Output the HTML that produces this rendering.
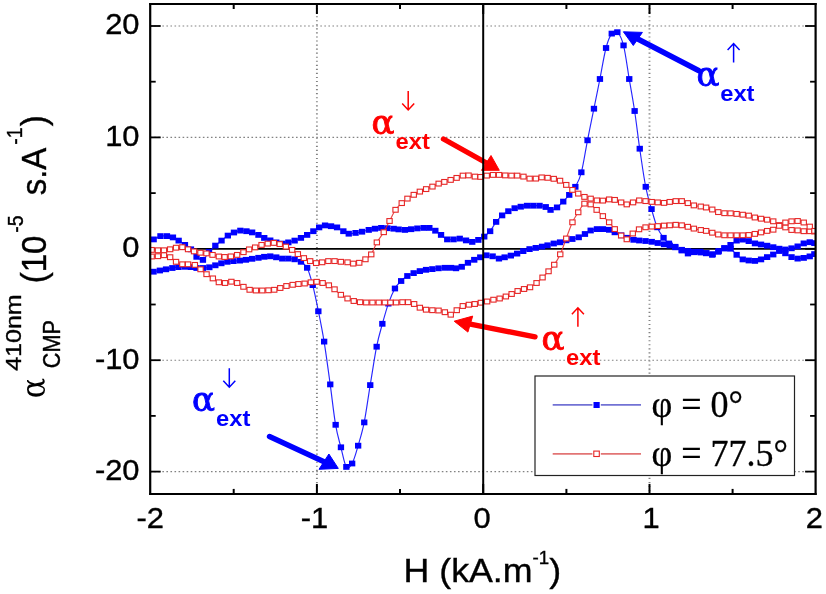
<!DOCTYPE html>
<html lang="en"><head><meta charset="utf-8"><title>Figure</title>
<style>html,body{margin:0;padding:0;background:#fff}body{width:826px;height:594px;overflow:hidden}svg{display:block}</style>
</head><body>
<svg width="826" height="594" viewBox="0 0 826 594">
<rect width="826" height="594" fill="#fff"/>
<g stroke="#828282" fill="none">
<line x1="316.9" y1="4.0" x2="316.9" y2="493.9" stroke-width="1.9" stroke-dasharray="1.15 2.9"/>
<line x1="649.5" y1="4.0" x2="649.5" y2="493.9" stroke-width="1.9" stroke-dasharray="1.15 2.9"/>
<line x1="150.2" y1="471.6" x2="815.6" y2="471.6" stroke-width="1.15" stroke-dasharray="1.6 2.45"/>
<line x1="150.2" y1="360.2" x2="815.6" y2="360.2" stroke-width="1.15" stroke-dasharray="1.6 2.45"/>
<line x1="150.2" y1="137.4" x2="815.6" y2="137.4" stroke-width="1.15" stroke-dasharray="1.6 2.45"/>
<line x1="150.2" y1="26.0" x2="815.6" y2="26.0" stroke-width="1.15" stroke-dasharray="1.6 2.45"/>
</g>
<line x1="150.2" y1="248.8" x2="815.6" y2="248.8" stroke="#000" stroke-width="1.7"/>
<g stroke="#000" stroke-width="2">
<line x1="233.7" y1="4.0" x2="233.7" y2="9.0"/>
<line x1="233.7" y1="493.9" x2="233.7" y2="488.9"/>
<line x1="316.9" y1="4.0" x2="316.9" y2="14.0"/>
<line x1="316.9" y1="493.9" x2="316.9" y2="483.9"/>
<line x1="400.0" y1="4.0" x2="400.0" y2="9.0"/>
<line x1="400.0" y1="493.9" x2="400.0" y2="488.9"/>
<line x1="483.2" y1="4.0" x2="483.2" y2="14.0"/>
<line x1="483.2" y1="493.9" x2="483.2" y2="483.9"/>
<line x1="566.4" y1="4.0" x2="566.4" y2="9.0"/>
<line x1="566.4" y1="493.9" x2="566.4" y2="488.9"/>
<line x1="649.5" y1="4.0" x2="649.5" y2="14.0"/>
<line x1="649.5" y1="493.9" x2="649.5" y2="483.9"/>
<line x1="732.6" y1="4.0" x2="732.6" y2="9.0"/>
<line x1="732.6" y1="493.9" x2="732.6" y2="488.9"/>
<line x1="150.2" y1="471.6" x2="160.7" y2="471.6" stroke-width="1.8"/>
<line x1="815.6" y1="471.6" x2="805.1" y2="471.6" stroke-width="1.8"/>
<line x1="150.2" y1="415.9" x2="155.7" y2="415.9" stroke-width="1.8"/>
<line x1="815.6" y1="415.9" x2="810.1" y2="415.9" stroke-width="1.8"/>
<line x1="150.2" y1="360.2" x2="160.7" y2="360.2" stroke-width="1.8"/>
<line x1="815.6" y1="360.2" x2="805.1" y2="360.2" stroke-width="1.8"/>
<line x1="150.2" y1="304.5" x2="155.7" y2="304.5" stroke-width="1.8"/>
<line x1="815.6" y1="304.5" x2="810.1" y2="304.5" stroke-width="1.8"/>
<line x1="150.2" y1="248.8" x2="160.7" y2="248.8" stroke-width="1.8"/>
<line x1="815.6" y1="248.8" x2="805.1" y2="248.8" stroke-width="1.8"/>
<line x1="150.2" y1="193.1" x2="155.7" y2="193.1" stroke-width="1.8"/>
<line x1="815.6" y1="193.1" x2="810.1" y2="193.1" stroke-width="1.8"/>
<line x1="150.2" y1="137.4" x2="160.7" y2="137.4" stroke-width="1.8"/>
<line x1="815.6" y1="137.4" x2="805.1" y2="137.4" stroke-width="1.8"/>
<line x1="150.2" y1="81.7" x2="155.7" y2="81.7" stroke-width="1.8"/>
<line x1="815.6" y1="81.7" x2="810.1" y2="81.7" stroke-width="1.8"/>
<line x1="150.2" y1="26.0" x2="160.7" y2="26.0" stroke-width="1.8"/>
<line x1="815.6" y1="26.0" x2="805.1" y2="26.0" stroke-width="1.8"/>
</g>
<clipPath id="pc"><rect x="150.2" y="4.0" width="665.4" height="489.9"/></clipPath>
<g id="curves" clip-path="url(#pc)">
<path d="M153.7,239.4 C154.8,238.8 158.3,236.7 160.5,236.1 C162.7,235.5 164.9,235.9 167.0,236.1 C169.1,236.3 171.1,236.7 173.0,237.4 C174.9,238.2 176.7,239.3 178.7,240.6 C180.7,241.8 182.9,243.4 185.0,244.9 C187.1,246.4 189.1,247.3 191.0,249.3 C192.9,251.3 194.6,255.0 196.6,256.8 C198.6,258.6 200.8,260.7 202.9,259.9 C205.0,259.1 207.0,254.2 209.1,251.8 C211.2,249.4 213.2,247.5 215.3,245.6 C217.4,243.7 219.5,242.3 221.6,240.6 C223.7,238.9 225.7,236.9 227.8,235.6 C229.9,234.2 231.9,233.3 234.0,232.5 C236.1,231.7 238.2,230.8 240.3,230.6 C242.4,230.4 244.5,230.9 246.5,231.2 C248.5,231.5 250.2,231.8 252.2,232.4 C254.2,233.0 256.5,234.0 258.5,234.9 C260.5,235.8 262.2,237.0 264.2,237.9 C266.1,238.8 268.2,239.7 270.2,240.4 C272.2,241.2 274.2,241.9 276.2,242.4 C278.2,242.9 280.2,243.6 282.2,243.6 C284.2,243.6 286.3,242.9 288.4,242.4 C290.5,241.9 292.5,241.3 294.6,240.6 C296.7,239.8 298.8,238.8 300.9,237.9 C303.0,237.0 305.0,236.0 307.1,234.9 C309.2,233.8 311.3,232.4 313.3,231.2 C315.3,229.9 317.2,228.4 319.1,227.4 C321.1,226.4 323.0,225.6 325.0,225.4 C327.0,225.2 329.0,225.9 331.0,226.2 C333.0,226.5 334.9,226.6 337.0,227.4 C339.1,228.2 341.4,230.1 343.3,231.2 C345.2,232.2 346.7,233.4 348.7,233.7 C350.7,234.0 353.3,233.2 355.5,232.9 C357.7,232.6 359.8,232.2 362.0,231.7 C364.2,231.2 366.6,230.4 368.7,229.9 C370.8,229.4 372.8,229.0 374.9,228.7 C377.0,228.4 379.1,228.0 381.2,227.9 C383.3,227.8 385.3,228.1 387.4,228.2 C389.5,228.3 391.7,228.5 393.6,228.7 C395.5,228.9 396.7,229.2 398.6,229.4 C400.5,229.6 402.8,229.9 404.9,229.9 C407.0,229.9 409.0,229.4 411.1,229.2 C413.2,228.9 415.2,228.6 417.3,228.4 C419.4,228.2 421.6,228.0 423.6,227.9 C425.6,227.8 427.4,227.4 429.3,227.9 C431.2,228.4 433.4,229.5 435.3,230.7 C437.2,231.9 439.0,233.4 441.0,234.9 C443.0,236.4 445.1,238.7 447.2,239.4 C449.3,240.2 451.4,239.5 453.5,239.4 C455.6,239.3 457.6,238.4 459.7,238.6 C461.8,238.8 463.9,239.8 466.0,240.4 C468.1,241.0 470.1,242.0 472.2,241.9 C474.3,241.8 476.4,240.8 478.4,239.9 C480.4,239.0 482.2,238.1 484.2,236.6 C486.1,235.1 488.1,233.6 490.1,231.2 C492.1,228.8 494.1,224.5 496.1,221.9 C498.1,219.3 500.1,217.2 502.1,215.4 C504.1,213.6 506.2,212.4 508.3,211.2 C510.4,210.0 512.5,208.9 514.6,208.2 C516.7,207.4 518.7,207.1 520.8,206.7 C522.9,206.3 524.9,205.9 527.0,205.7 C529.1,205.5 531.2,205.7 533.3,205.7 C535.4,205.7 537.4,205.5 539.5,205.7 C541.6,205.9 544.0,206.3 545.8,207.0 C547.6,207.7 548.6,209.8 550.5,209.9 C552.4,210.0 554.9,208.8 557.0,207.4 C559.1,206.0 561.2,203.7 563.2,201.6 C565.2,199.5 567.2,197.4 569.2,194.9 C571.2,192.4 573.4,190.6 575.4,186.8 C577.4,183.0 579.4,180.1 581.4,172.3 C583.4,164.6 585.4,150.9 587.5,140.3 C589.6,129.7 591.8,118.9 593.9,108.7 C596.0,98.5 597.9,89.1 599.9,79.0 C601.9,68.9 604.0,55.6 606.0,48.0 C608.0,40.4 609.8,36.2 611.7,33.6 C613.6,31.0 615.4,30.2 617.4,32.2 C619.4,34.2 621.5,37.6 623.5,45.4 C625.5,53.2 627.4,68.1 629.2,79.0 C631.1,89.9 632.9,99.4 634.6,111.0 C636.4,122.6 637.9,136.1 639.7,148.7 C641.6,161.3 643.7,176.7 645.7,186.8 C647.7,196.9 649.6,202.3 651.5,209.1 C653.4,215.8 655.2,222.5 657.2,227.3 C659.2,232.1 661.5,235.1 663.5,237.8 C665.5,240.5 666.9,241.9 668.9,243.5 C670.9,245.1 673.1,246.1 675.2,247.3 C677.3,248.5 679.6,249.5 681.7,250.5 C683.8,251.5 685.9,253.2 687.9,253.5 C689.9,253.8 691.8,252.4 693.9,252.2 C696.0,252.0 698.8,252.3 700.8,252.5 C702.8,252.7 704.2,252.9 706.1,253.3 C708.0,253.7 710.2,255.1 712.2,254.8 C714.2,254.6 716.3,252.9 718.3,251.8 C720.3,250.7 722.4,249.2 724.4,248.0 C726.4,246.8 728.5,246.1 730.5,244.9 C732.5,243.7 734.6,241.5 736.6,240.6 C738.6,239.7 740.7,239.5 742.7,239.6 C744.7,239.7 746.8,240.5 748.8,241.1 C750.8,241.7 752.9,242.8 754.9,243.4 C756.9,244.0 759.0,244.1 761.0,244.5 C763.0,244.9 765.1,245.2 767.1,245.7 C769.1,246.1 771.2,246.7 773.2,247.2 C775.2,247.7 777.3,248.3 779.3,248.7 C781.3,249.1 783.4,249.6 785.4,249.5 C787.4,249.4 789.5,248.8 791.5,248.3 C793.5,247.8 795.6,247.2 797.6,246.4 C799.6,245.6 801.7,244.1 803.7,243.4 C805.7,242.7 808.0,242.2 809.8,242.2 C811.6,242.1 813.6,242.9 814.4,243.1" fill="none" stroke="#0000ff" stroke-width="1.15" stroke-opacity=".85" stroke-linejoin="round"/>
<g fill="#0000ff">
<rect x="150.5" y="236.5" width="6.3" height="5.8"/>
<rect x="157.3" y="233.2" width="6.3" height="5.8"/>
<rect x="163.8" y="233.2" width="6.3" height="5.8"/>
<rect x="169.8" y="234.5" width="6.3" height="5.8"/>
<rect x="175.5" y="237.7" width="6.3" height="5.8"/>
<rect x="181.8" y="242.0" width="6.3" height="5.8"/>
<rect x="187.8" y="246.4" width="6.3" height="5.8"/>
<rect x="193.4" y="253.9" width="6.3" height="5.8"/>
<rect x="199.8" y="257.0" width="6.3" height="5.8"/>
<rect x="205.9" y="248.9" width="6.3" height="5.8"/>
<rect x="212.2" y="242.7" width="6.3" height="5.8"/>
<rect x="218.4" y="237.7" width="6.3" height="5.8"/>
<rect x="224.7" y="232.7" width="6.3" height="5.8"/>
<rect x="230.8" y="229.6" width="6.3" height="5.8"/>
<rect x="237.2" y="227.7" width="6.3" height="5.8"/>
<rect x="243.3" y="228.3" width="6.3" height="5.8"/>
<rect x="249.0" y="229.5" width="6.3" height="5.8"/>
<rect x="255.3" y="232.0" width="6.3" height="5.8"/>
<rect x="261.1" y="235.0" width="6.3" height="5.8"/>
<rect x="267.1" y="237.5" width="6.3" height="5.8"/>
<rect x="273.1" y="239.5" width="6.3" height="5.8"/>
<rect x="279.1" y="240.7" width="6.3" height="5.8"/>
<rect x="285.2" y="239.5" width="6.3" height="5.8"/>
<rect x="291.5" y="237.7" width="6.3" height="5.8"/>
<rect x="297.8" y="235.0" width="6.3" height="5.8"/>
<rect x="304.0" y="232.0" width="6.3" height="5.8"/>
<rect x="310.2" y="228.3" width="6.3" height="5.8"/>
<rect x="316.0" y="224.5" width="6.3" height="5.8"/>
<rect x="321.9" y="222.5" width="6.3" height="5.8"/>
<rect x="327.9" y="223.3" width="6.3" height="5.8"/>
<rect x="333.9" y="224.5" width="6.3" height="5.8"/>
<rect x="340.2" y="228.3" width="6.3" height="5.8"/>
<rect x="345.6" y="230.8" width="6.3" height="5.8"/>
<rect x="352.4" y="230.0" width="6.3" height="5.8"/>
<rect x="358.9" y="228.8" width="6.3" height="5.8"/>
<rect x="365.6" y="227.0" width="6.3" height="5.8"/>
<rect x="371.8" y="225.8" width="6.3" height="5.8"/>
<rect x="378.1" y="225.0" width="6.3" height="5.8"/>
<rect x="384.2" y="225.3" width="6.3" height="5.8"/>
<rect x="390.5" y="225.8" width="6.3" height="5.8"/>
<rect x="395.5" y="226.5" width="6.3" height="5.8"/>
<rect x="401.8" y="227.0" width="6.3" height="5.8"/>
<rect x="408.0" y="226.3" width="6.3" height="5.8"/>
<rect x="414.2" y="225.5" width="6.3" height="5.8"/>
<rect x="420.5" y="225.0" width="6.3" height="5.8"/>
<rect x="426.2" y="225.0" width="6.3" height="5.8"/>
<rect x="432.2" y="227.8" width="6.3" height="5.8"/>
<rect x="437.9" y="232.0" width="6.3" height="5.8"/>
<rect x="444.1" y="236.5" width="6.3" height="5.8"/>
<rect x="450.4" y="236.5" width="6.3" height="5.8"/>
<rect x="456.6" y="235.7" width="6.3" height="5.8"/>
<rect x="462.9" y="237.5" width="6.3" height="5.8"/>
<rect x="469.1" y="239.0" width="6.3" height="5.8"/>
<rect x="475.2" y="237.0" width="6.3" height="5.8"/>
<rect x="481.1" y="233.7" width="6.3" height="5.8"/>
<rect x="487.0" y="228.3" width="6.3" height="5.8"/>
<rect x="493.0" y="219.0" width="6.3" height="5.8"/>
<rect x="499.0" y="212.5" width="6.3" height="5.8"/>
<rect x="505.2" y="208.3" width="6.3" height="5.8"/>
<rect x="511.5" y="205.3" width="6.3" height="5.8"/>
<rect x="517.6" y="203.8" width="6.3" height="5.8"/>
<rect x="523.9" y="202.8" width="6.3" height="5.8"/>
<rect x="530.1" y="202.8" width="6.3" height="5.8"/>
<rect x="536.4" y="202.8" width="6.3" height="5.8"/>
<rect x="542.6" y="204.1" width="6.3" height="5.8"/>
<rect x="547.4" y="207.0" width="6.3" height="5.8"/>
<rect x="553.9" y="204.5" width="6.3" height="5.8"/>
<rect x="560.1" y="198.7" width="6.3" height="5.8"/>
<rect x="566.1" y="192.0" width="6.3" height="5.8"/>
<rect x="572.2" y="183.9" width="6.3" height="5.8"/>
<rect x="578.2" y="169.4" width="6.3" height="5.8"/>
<rect x="584.4" y="137.4" width="6.3" height="5.8"/>
<rect x="590.8" y="105.8" width="6.3" height="5.8"/>
<rect x="596.8" y="76.1" width="6.3" height="5.8"/>
<rect x="602.9" y="45.1" width="6.3" height="5.8"/>
<rect x="608.6" y="30.7" width="6.3" height="5.8"/>
<rect x="614.2" y="29.3" width="6.3" height="5.8"/>
<rect x="620.4" y="42.5" width="6.3" height="5.8"/>
<rect x="626.1" y="76.1" width="6.3" height="5.8"/>
<rect x="631.5" y="108.1" width="6.3" height="5.8"/>
<rect x="636.6" y="145.8" width="6.3" height="5.8"/>
<rect x="642.6" y="183.9" width="6.3" height="5.8"/>
<rect x="648.4" y="206.2" width="6.3" height="5.8"/>
<rect x="654.1" y="224.4" width="6.3" height="5.8"/>
<rect x="660.4" y="234.9" width="6.3" height="5.8"/>
<rect x="665.8" y="240.6" width="6.3" height="5.8"/>
<rect x="672.1" y="244.4" width="6.3" height="5.8"/>
<rect x="678.6" y="247.6" width="6.3" height="5.8"/>
<rect x="684.8" y="250.6" width="6.3" height="5.8"/>
<rect x="690.8" y="249.3" width="6.3" height="5.8"/>
<rect x="697.6" y="249.6" width="6.3" height="5.8"/>
<rect x="703.0" y="250.4" width="6.3" height="5.8"/>
<rect x="709.1" y="251.9" width="6.3" height="5.8"/>
<rect x="715.1" y="248.9" width="6.3" height="5.8"/>
<rect x="721.2" y="245.1" width="6.3" height="5.8"/>
<rect x="727.4" y="242.0" width="6.3" height="5.8"/>
<rect x="733.5" y="237.7" width="6.3" height="5.8"/>
<rect x="739.6" y="236.7" width="6.3" height="5.8"/>
<rect x="745.6" y="238.2" width="6.3" height="5.8"/>
<rect x="751.8" y="240.5" width="6.3" height="5.8"/>
<rect x="757.9" y="241.6" width="6.3" height="5.8"/>
<rect x="764.0" y="242.8" width="6.3" height="5.8"/>
<rect x="770.1" y="244.3" width="6.3" height="5.8"/>
<rect x="776.1" y="245.8" width="6.3" height="5.8"/>
<rect x="782.2" y="246.6" width="6.3" height="5.8"/>
<rect x="788.4" y="245.4" width="6.3" height="5.8"/>
<rect x="794.5" y="243.5" width="6.3" height="5.8"/>
<rect x="800.6" y="240.5" width="6.3" height="5.8"/>
<rect x="806.6" y="239.3" width="6.3" height="5.8"/>
<rect x="811.2" y="240.2" width="6.3" height="5.8"/>
</g>
<path d="M153.6,271.7 C154.6,271.5 157.7,270.9 159.8,270.5 C161.9,270.1 164.0,269.7 166.1,269.3 C168.2,268.9 170.2,268.4 172.3,268.0 C174.4,267.6 176.4,267.3 178.5,267.1 C180.6,266.9 182.7,266.8 184.8,266.8 C186.9,266.8 189.0,266.9 191.0,267.1 C193.0,267.3 194.6,267.9 196.6,268.0 C198.6,268.1 200.8,268.1 202.9,268.0 C205.0,267.9 207.2,267.8 209.3,267.3 C211.4,266.9 213.3,266.0 215.3,265.3 C217.3,264.6 219.3,263.9 221.3,263.3 C223.3,262.7 225.3,262.2 227.3,261.8 C229.3,261.4 231.4,261.3 233.5,261.1 C235.6,260.9 237.7,260.8 239.8,260.6 C241.9,260.4 243.9,260.1 246.0,259.8 C248.1,259.5 250.1,259.1 252.2,258.8 C254.3,258.5 256.5,258.1 258.5,257.8 C260.5,257.5 262.2,257.1 264.2,256.8 C266.1,256.6 268.2,256.2 270.2,256.3 C272.2,256.4 274.2,256.9 276.2,257.3 C278.2,257.7 280.2,258.4 282.2,258.6 C284.2,258.8 286.3,258.5 288.4,258.6 C290.5,258.7 292.5,258.8 294.6,259.3 C296.7,259.8 298.8,260.4 300.9,261.8 C303.0,263.2 305.1,263.9 307.1,267.8 C309.1,271.7 310.8,277.9 312.7,285.1 C314.6,292.4 316.5,301.9 318.4,311.3 C320.3,320.7 322.1,329.4 324.1,341.6 C326.1,353.8 328.3,370.5 330.2,384.4 C332.1,398.3 333.8,414.3 335.6,424.8 C337.4,435.3 339.1,440.3 340.9,447.3 C342.7,454.3 344.4,464.2 346.3,466.9 C348.2,469.6 350.1,467.0 352.1,463.5 C354.1,460.0 356.1,452.6 358.1,445.7 C360.1,438.8 362.2,432.5 364.2,422.4 C366.2,412.3 368.1,397.7 370.2,385.1 C372.3,372.5 374.6,356.9 376.6,346.7 C378.6,336.5 380.4,331.0 382.4,323.8 C384.4,316.6 386.3,309.5 388.4,303.6 C390.5,297.7 392.8,292.3 394.9,288.5 C397.0,284.7 399.0,283.1 401.1,281.0 C403.2,278.9 405.2,277.3 407.3,276.0 C409.4,274.7 411.5,273.9 413.6,273.1 C415.7,272.3 417.7,271.7 419.8,271.1 C421.9,270.6 423.9,270.1 426.0,269.8 C428.1,269.5 430.2,269.4 432.3,269.1 C434.4,268.9 436.4,268.5 438.5,268.3 C440.6,268.1 442.7,267.9 444.8,267.8 C446.9,267.7 449.1,267.7 451.0,267.8 C452.9,267.9 454.2,268.5 456.0,268.3 C457.8,268.1 459.7,267.7 461.7,266.8 C463.7,265.9 465.8,264.0 467.9,262.8 C470.0,261.6 472.1,260.7 474.2,259.8 C476.2,258.9 478.2,258.1 480.2,257.3 C482.2,256.6 484.3,255.5 486.4,255.3 C488.5,255.1 490.5,255.8 492.6,256.3 C494.7,256.9 496.9,258.4 498.9,258.6 C500.9,258.8 502.6,257.8 504.6,257.3 C506.6,256.8 508.7,256.2 510.8,255.6 C512.9,255.0 515.0,254.3 517.1,253.6 C519.2,252.8 521.2,251.8 523.3,251.1 C525.4,250.3 527.4,249.6 529.5,249.1 C531.6,248.6 533.7,248.3 535.8,247.9 C537.9,247.5 540.0,247.0 542.0,246.6 C544.0,246.2 545.5,245.8 547.5,245.3 C549.5,244.8 551.6,244.0 553.7,243.5 C555.8,243.0 557.9,242.8 560.0,242.3 C562.1,241.8 564.1,240.9 566.2,240.3 C568.3,239.8 570.3,239.5 572.4,239.0 C574.5,238.5 576.6,238.1 578.7,237.3 C580.8,236.5 582.9,235.1 584.9,234.0 C586.9,232.9 588.6,231.3 590.6,230.5 C592.6,229.7 594.9,229.3 596.9,229.1 C598.9,228.9 600.9,229.0 602.9,229.1 C604.9,229.2 607.1,229.3 609.1,229.8 C611.1,230.3 612.8,231.4 614.8,232.3 C616.8,233.2 619.0,234.4 621.1,235.3 C623.2,236.2 625.2,237.1 627.3,237.8 C629.4,238.6 631.5,239.4 633.5,239.8 C635.5,240.2 637.3,240.3 639.3,240.5 C641.3,240.7 643.4,240.8 645.5,241.0 C647.6,241.2 649.7,241.5 651.7,241.8 C653.7,242.1 655.7,242.6 657.7,243.0 C659.8,243.4 662.0,243.9 664.0,244.3 C666.0,244.7 667.8,245.1 669.7,245.5 C671.6,245.9 673.2,246.1 675.2,246.8 C677.2,247.5 679.6,249.1 681.7,249.8 C683.8,250.5 685.9,250.7 687.9,251.0 C689.9,251.3 691.9,251.6 693.9,251.7 C695.9,251.8 698.0,251.5 700.1,251.7 C702.2,251.9 704.3,252.6 706.4,253.0 C708.5,253.4 710.5,254.5 712.6,254.2 C714.7,253.9 716.8,251.9 718.8,251.0 C720.8,250.1 722.6,248.9 724.6,248.5 C726.6,248.1 728.5,247.6 730.5,248.7 C732.5,249.8 734.6,253.0 736.6,254.8 C738.6,256.6 740.7,258.4 742.7,259.4 C744.7,260.3 746.8,260.2 748.8,260.5 C750.8,260.8 752.9,261.1 754.9,260.9 C756.9,260.7 759.0,260.0 761.0,259.4 C763.0,258.8 765.1,257.9 767.1,257.1 C769.1,256.3 771.2,255.5 773.2,254.5 C775.2,253.5 777.3,251.2 779.3,251.0 C781.3,250.8 783.4,252.3 785.4,253.3 C787.4,254.3 789.5,256.2 791.5,257.1 C793.5,258.0 795.6,258.5 797.6,258.6 C799.6,258.7 801.7,258.3 803.7,257.9 C805.7,257.5 808.0,257.0 809.8,256.4 C811.6,255.8 813.6,254.5 814.4,254.1" fill="none" stroke="#0000ff" stroke-width="1.15" stroke-opacity=".85" stroke-linejoin="round"/>
<g fill="#0000ff">
<rect x="150.4" y="268.8" width="6.3" height="5.8"/>
<rect x="156.7" y="267.6" width="6.3" height="5.8"/>
<rect x="162.9" y="266.4" width="6.3" height="5.8"/>
<rect x="169.2" y="265.1" width="6.3" height="5.8"/>
<rect x="175.3" y="264.2" width="6.3" height="5.8"/>
<rect x="181.7" y="263.9" width="6.3" height="5.8"/>
<rect x="187.8" y="264.2" width="6.3" height="5.8"/>
<rect x="193.4" y="265.1" width="6.3" height="5.8"/>
<rect x="199.8" y="265.1" width="6.3" height="5.8"/>
<rect x="206.2" y="264.4" width="6.3" height="5.8"/>
<rect x="212.2" y="262.4" width="6.3" height="5.8"/>
<rect x="218.2" y="260.4" width="6.3" height="5.8"/>
<rect x="224.2" y="258.9" width="6.3" height="5.8"/>
<rect x="230.3" y="258.2" width="6.3" height="5.8"/>
<rect x="236.7" y="257.7" width="6.3" height="5.8"/>
<rect x="242.8" y="256.9" width="6.3" height="5.8"/>
<rect x="249.0" y="255.9" width="6.3" height="5.8"/>
<rect x="255.3" y="254.9" width="6.3" height="5.8"/>
<rect x="261.1" y="253.9" width="6.3" height="5.8"/>
<rect x="267.1" y="253.4" width="6.3" height="5.8"/>
<rect x="273.1" y="254.4" width="6.3" height="5.8"/>
<rect x="279.1" y="255.7" width="6.3" height="5.8"/>
<rect x="285.2" y="255.7" width="6.3" height="5.8"/>
<rect x="291.5" y="256.4" width="6.3" height="5.8"/>
<rect x="297.8" y="258.9" width="6.3" height="5.8"/>
<rect x="304.0" y="264.9" width="6.3" height="5.8"/>
<rect x="309.6" y="282.2" width="6.3" height="5.8"/>
<rect x="315.2" y="308.4" width="6.3" height="5.8"/>
<rect x="321.0" y="338.7" width="6.3" height="5.8"/>
<rect x="327.1" y="381.5" width="6.3" height="5.8"/>
<rect x="332.5" y="421.9" width="6.3" height="5.8"/>
<rect x="337.8" y="444.4" width="6.3" height="5.8"/>
<rect x="343.2" y="464.0" width="6.3" height="5.8"/>
<rect x="349.0" y="460.6" width="6.3" height="5.8"/>
<rect x="355.0" y="442.8" width="6.3" height="5.8"/>
<rect x="361.1" y="419.5" width="6.3" height="5.8"/>
<rect x="367.1" y="382.2" width="6.3" height="5.8"/>
<rect x="373.5" y="343.8" width="6.3" height="5.8"/>
<rect x="379.2" y="320.9" width="6.3" height="5.8"/>
<rect x="385.2" y="300.7" width="6.3" height="5.8"/>
<rect x="391.8" y="285.6" width="6.3" height="5.8"/>
<rect x="398.0" y="278.1" width="6.3" height="5.8"/>
<rect x="404.2" y="273.1" width="6.3" height="5.8"/>
<rect x="410.5" y="270.2" width="6.3" height="5.8"/>
<rect x="416.7" y="268.2" width="6.3" height="5.8"/>
<rect x="422.9" y="266.9" width="6.3" height="5.8"/>
<rect x="429.2" y="266.2" width="6.3" height="5.8"/>
<rect x="435.4" y="265.4" width="6.3" height="5.8"/>
<rect x="441.7" y="264.9" width="6.3" height="5.8"/>
<rect x="447.9" y="264.9" width="6.3" height="5.8"/>
<rect x="452.9" y="265.4" width="6.3" height="5.8"/>
<rect x="458.6" y="263.9" width="6.3" height="5.8"/>
<rect x="464.8" y="259.9" width="6.3" height="5.8"/>
<rect x="471.1" y="256.9" width="6.3" height="5.8"/>
<rect x="477.1" y="254.4" width="6.3" height="5.8"/>
<rect x="483.2" y="252.4" width="6.3" height="5.8"/>
<rect x="489.5" y="253.4" width="6.3" height="5.8"/>
<rect x="495.8" y="255.7" width="6.3" height="5.8"/>
<rect x="501.5" y="254.4" width="6.3" height="5.8"/>
<rect x="507.7" y="252.7" width="6.3" height="5.8"/>
<rect x="514.0" y="250.7" width="6.3" height="5.8"/>
<rect x="520.1" y="248.2" width="6.3" height="5.8"/>
<rect x="526.4" y="246.2" width="6.3" height="5.8"/>
<rect x="532.6" y="245.0" width="6.3" height="5.8"/>
<rect x="538.9" y="243.7" width="6.3" height="5.8"/>
<rect x="544.4" y="242.4" width="6.3" height="5.8"/>
<rect x="550.6" y="240.6" width="6.3" height="5.8"/>
<rect x="556.9" y="239.4" width="6.3" height="5.8"/>
<rect x="563.1" y="237.4" width="6.3" height="5.8"/>
<rect x="569.2" y="236.1" width="6.3" height="5.8"/>
<rect x="575.6" y="234.4" width="6.3" height="5.8"/>
<rect x="581.8" y="231.1" width="6.3" height="5.8"/>
<rect x="587.5" y="227.6" width="6.3" height="5.8"/>
<rect x="593.8" y="226.2" width="6.3" height="5.8"/>
<rect x="599.8" y="226.2" width="6.3" height="5.8"/>
<rect x="606.0" y="226.9" width="6.3" height="5.8"/>
<rect x="611.6" y="229.4" width="6.3" height="5.8"/>
<rect x="618.0" y="232.4" width="6.3" height="5.8"/>
<rect x="624.1" y="234.9" width="6.3" height="5.8"/>
<rect x="630.4" y="236.9" width="6.3" height="5.8"/>
<rect x="636.1" y="237.6" width="6.3" height="5.8"/>
<rect x="642.4" y="238.1" width="6.3" height="5.8"/>
<rect x="648.6" y="238.9" width="6.3" height="5.8"/>
<rect x="654.6" y="240.1" width="6.3" height="5.8"/>
<rect x="660.9" y="241.4" width="6.3" height="5.8"/>
<rect x="666.6" y="242.6" width="6.3" height="5.8"/>
<rect x="672.1" y="243.9" width="6.3" height="5.8"/>
<rect x="678.6" y="246.9" width="6.3" height="5.8"/>
<rect x="684.8" y="248.1" width="6.3" height="5.8"/>
<rect x="690.8" y="248.8" width="6.3" height="5.8"/>
<rect x="697.0" y="248.8" width="6.3" height="5.8"/>
<rect x="703.2" y="250.1" width="6.3" height="5.8"/>
<rect x="709.5" y="251.3" width="6.3" height="5.8"/>
<rect x="715.6" y="248.1" width="6.3" height="5.8"/>
<rect x="721.5" y="245.6" width="6.3" height="5.8"/>
<rect x="727.4" y="245.8" width="6.3" height="5.8"/>
<rect x="733.5" y="251.9" width="6.3" height="5.8"/>
<rect x="739.6" y="256.5" width="6.3" height="5.8"/>
<rect x="745.6" y="257.6" width="6.3" height="5.8"/>
<rect x="751.8" y="258.0" width="6.3" height="5.8"/>
<rect x="757.9" y="256.5" width="6.3" height="5.8"/>
<rect x="764.0" y="254.2" width="6.3" height="5.8"/>
<rect x="770.1" y="251.6" width="6.3" height="5.8"/>
<rect x="776.1" y="248.1" width="6.3" height="5.8"/>
<rect x="782.2" y="250.4" width="6.3" height="5.8"/>
<rect x="788.4" y="254.2" width="6.3" height="5.8"/>
<rect x="794.5" y="255.7" width="6.3" height="5.8"/>
<rect x="800.6" y="255.0" width="6.3" height="5.8"/>
<rect x="806.6" y="253.5" width="6.3" height="5.8"/>
<rect x="811.2" y="251.2" width="6.3" height="5.8"/>
</g>
<path d="M151.7,249.9 C152.8,250.0 155.9,250.2 158.0,250.3 C160.1,250.4 162.0,250.5 164.0,250.3 C166.0,250.1 168.2,249.7 170.2,249.3 C172.2,248.9 174.1,248.0 176.1,247.7 C178.1,247.3 180.3,246.9 182.3,247.2 C184.3,247.5 186.1,248.6 188.1,249.3 C190.1,250.0 192.0,250.8 194.1,251.4 C196.2,252.0 198.3,252.4 200.4,252.7 C202.5,253.0 204.4,253.0 206.4,253.4 C208.4,253.8 210.5,254.4 212.6,254.9 C214.7,255.4 216.8,256.1 218.8,256.5 C220.8,256.9 222.7,257.0 224.7,257.0 C226.7,257.0 228.8,256.8 230.9,256.4 C233.0,256.0 235.1,255.6 237.2,254.9 C239.3,254.2 241.4,253.1 243.4,252.2 C245.4,251.3 247.2,250.2 249.2,249.4 C251.2,248.6 253.1,248.2 255.2,247.4 C257.2,246.7 259.4,245.5 261.5,244.9 C263.6,244.3 265.6,243.9 267.7,243.6 C269.8,243.3 271.9,242.8 273.9,242.9 C275.9,243.0 277.7,243.5 279.7,244.1 C281.7,244.7 283.8,245.6 285.9,246.6 C288.0,247.6 290.1,248.7 292.1,249.9 C294.1,251.2 295.9,252.7 297.9,254.1 C299.9,255.5 301.9,256.9 303.9,258.1 C305.9,259.3 308.1,260.3 310.1,261.1 C312.1,261.9 314.1,262.9 316.1,263.1 C318.1,263.3 320.1,262.6 322.1,262.3 C324.1,262.0 326.2,261.3 328.3,261.1 C330.4,260.9 332.4,261.0 334.5,261.1 C336.6,261.2 338.6,261.6 340.8,261.8 C343.0,262.0 345.4,262.0 347.5,262.3 C349.6,262.6 351.2,263.5 353.2,263.6 C355.1,263.7 357.2,263.5 359.2,262.8 C361.2,262.1 363.4,260.7 365.4,259.3 C367.4,257.9 369.3,257.2 371.2,254.4 C373.1,251.6 374.8,246.1 376.9,242.4 C379.0,238.7 381.6,235.8 383.7,232.2 C385.8,228.6 387.5,224.7 389.5,221.0 C391.5,217.3 393.5,212.8 395.5,209.8 C397.5,206.8 399.7,205.0 401.7,203.1 C403.7,201.2 405.4,200.0 407.4,198.6 C409.4,197.2 411.6,196.0 413.7,194.8 C415.8,193.6 417.8,192.6 419.9,191.6 C422.0,190.6 424.0,189.9 426.1,189.1 C428.2,188.3 430.3,187.5 432.4,186.6 C434.5,185.7 436.6,184.4 438.6,183.6 C440.6,182.8 442.3,182.5 444.3,181.9 C446.3,181.3 448.6,180.6 450.6,179.9 C452.7,179.2 454.6,178.6 456.6,177.9 C458.6,177.2 460.8,176.0 462.8,175.6 C464.8,175.2 466.5,175.2 468.5,175.4 C470.5,175.6 472.8,176.3 474.8,176.6 C476.8,176.8 478.5,177.1 480.5,176.9 C482.5,176.7 484.6,175.9 486.7,175.6 C488.8,175.3 490.9,175.0 493.0,174.9 C495.1,174.8 497.0,174.8 499.0,174.9 C501.0,175.0 503.1,175.3 505.2,175.4 C507.3,175.5 509.4,175.6 511.4,175.6 C513.4,175.6 515.2,175.4 517.2,175.6 C519.2,175.8 521.3,176.1 523.4,176.6 C525.5,177.1 527.5,178.3 529.6,178.6 C531.7,178.9 533.9,178.8 535.9,178.6 C537.9,178.4 539.6,177.5 541.6,177.4 C543.6,177.3 545.6,177.6 547.6,177.8 C549.6,178.0 551.7,178.3 553.8,178.8 C555.9,179.3 557.9,179.7 560.0,180.7 C562.1,181.7 564.1,183.4 566.2,184.9 C568.3,186.4 570.4,188.5 572.4,189.9 C574.4,191.3 576.2,192.4 578.2,193.6 C580.2,194.8 582.3,196.1 584.4,196.9 C586.5,197.7 588.5,198.0 590.6,198.6 C592.7,199.2 594.9,200.1 596.9,200.4 C598.9,200.7 600.9,200.8 602.9,200.6 C604.9,200.4 607.1,199.5 609.1,199.4 C611.1,199.3 612.8,199.4 614.8,199.9 C616.8,200.4 619.1,201.7 621.1,202.4 C623.1,203.2 624.8,204.4 626.8,204.4 C628.8,204.4 630.9,203.1 633.0,202.4 C635.1,201.7 637.2,200.6 639.3,200.4 C641.4,200.2 643.4,200.8 645.5,201.1 C647.6,201.3 649.7,201.7 651.7,201.9 C653.7,202.1 655.7,202.2 657.7,202.4 C659.8,202.6 662.0,203.0 664.0,202.9 C666.0,202.8 667.8,202.2 669.7,201.9 C671.7,201.6 673.7,201.2 675.7,201.1 C677.7,201.0 679.7,200.8 681.7,201.1 C683.7,201.4 685.9,202.4 687.9,203.1 C689.9,203.8 691.8,204.8 693.9,205.4 C696.0,206.0 698.8,206.2 700.8,206.5 C702.8,206.8 704.2,207.0 706.1,207.5 C708.0,208.0 710.2,208.7 712.2,209.5 C714.2,210.3 716.3,211.5 718.3,212.1 C720.3,212.7 722.4,213.0 724.4,213.2 C726.4,213.4 728.5,213.2 730.5,213.3 C732.5,213.4 734.6,213.7 736.6,213.9 C738.6,214.1 740.7,214.4 742.7,214.7 C744.7,215.0 746.8,215.1 748.8,215.6 C750.8,216.1 752.9,217.0 754.9,217.5 C756.9,218.0 759.0,218.3 761.0,218.7 C763.0,219.1 765.1,219.3 767.1,219.7 C769.1,220.1 771.2,220.4 773.2,221.3 C775.2,222.2 777.3,224.1 779.3,225.1 C781.3,226.1 783.4,226.6 785.4,227.4 C787.4,228.2 789.5,229.5 791.5,230.0 C793.5,230.5 795.6,230.2 797.6,230.4 C799.6,230.6 801.7,231.1 803.7,231.2 C805.7,231.3 808.0,231.1 809.8,231.2 C811.6,231.2 813.6,231.4 814.4,231.5" fill="none" stroke="#e62626" stroke-width="1.15" stroke-opacity=".85" stroke-linejoin="round"/>
<g fill="#fff" stroke="#e62626" stroke-width="1.1">
<rect x="149.0" y="247.5" width="5.3" height="4.8"/>
<rect x="155.3" y="247.9" width="5.3" height="4.8"/>
<rect x="161.3" y="247.9" width="5.3" height="4.8"/>
<rect x="167.5" y="246.9" width="5.3" height="4.8"/>
<rect x="173.4" y="245.3" width="5.3" height="4.8"/>
<rect x="179.7" y="244.8" width="5.3" height="4.8"/>
<rect x="185.4" y="246.9" width="5.3" height="4.8"/>
<rect x="191.4" y="249.0" width="5.3" height="4.8"/>
<rect x="197.8" y="250.3" width="5.3" height="4.8"/>
<rect x="203.8" y="251.0" width="5.3" height="4.8"/>
<rect x="209.9" y="252.5" width="5.3" height="4.8"/>
<rect x="216.2" y="254.1" width="5.3" height="4.8"/>
<rect x="222.0" y="254.6" width="5.3" height="4.8"/>
<rect x="228.2" y="254.0" width="5.3" height="4.8"/>
<rect x="234.5" y="252.5" width="5.3" height="4.8"/>
<rect x="240.8" y="249.8" width="5.3" height="4.8"/>
<rect x="246.5" y="247.0" width="5.3" height="4.8"/>
<rect x="252.5" y="245.0" width="5.3" height="4.8"/>
<rect x="258.9" y="242.5" width="5.3" height="4.8"/>
<rect x="265.1" y="241.2" width="5.3" height="4.8"/>
<rect x="271.2" y="240.5" width="5.3" height="4.8"/>
<rect x="277.1" y="241.7" width="5.3" height="4.8"/>
<rect x="283.2" y="244.2" width="5.3" height="4.8"/>
<rect x="289.5" y="247.5" width="5.3" height="4.8"/>
<rect x="295.2" y="251.7" width="5.3" height="4.8"/>
<rect x="301.2" y="255.7" width="5.3" height="4.8"/>
<rect x="307.5" y="258.7" width="5.3" height="4.8"/>
<rect x="313.5" y="260.7" width="5.3" height="4.8"/>
<rect x="319.5" y="259.9" width="5.3" height="4.8"/>
<rect x="325.7" y="258.7" width="5.3" height="4.8"/>
<rect x="331.9" y="258.7" width="5.3" height="4.8"/>
<rect x="338.2" y="259.4" width="5.3" height="4.8"/>
<rect x="344.9" y="259.9" width="5.3" height="4.8"/>
<rect x="350.6" y="261.2" width="5.3" height="4.8"/>
<rect x="356.6" y="260.4" width="5.3" height="4.8"/>
<rect x="362.8" y="256.9" width="5.3" height="4.8"/>
<rect x="368.6" y="252.0" width="5.3" height="4.8"/>
<rect x="374.2" y="240.0" width="5.3" height="4.8"/>
<rect x="381.1" y="229.8" width="5.3" height="4.8"/>
<rect x="386.9" y="218.6" width="5.3" height="4.8"/>
<rect x="392.9" y="207.4" width="5.3" height="4.8"/>
<rect x="399.1" y="200.7" width="5.3" height="4.8"/>
<rect x="404.8" y="196.2" width="5.3" height="4.8"/>
<rect x="411.1" y="192.4" width="5.3" height="4.8"/>
<rect x="417.2" y="189.2" width="5.3" height="4.8"/>
<rect x="423.5" y="186.7" width="5.3" height="4.8"/>
<rect x="429.8" y="184.2" width="5.3" height="4.8"/>
<rect x="436.0" y="181.2" width="5.3" height="4.8"/>
<rect x="441.7" y="179.5" width="5.3" height="4.8"/>
<rect x="448.0" y="177.5" width="5.3" height="4.8"/>
<rect x="454.0" y="175.5" width="5.3" height="4.8"/>
<rect x="460.2" y="173.2" width="5.3" height="4.8"/>
<rect x="465.9" y="173.0" width="5.3" height="4.8"/>
<rect x="472.2" y="174.2" width="5.3" height="4.8"/>
<rect x="477.9" y="174.5" width="5.3" height="4.8"/>
<rect x="484.1" y="173.2" width="5.3" height="4.8"/>
<rect x="490.4" y="172.5" width="5.3" height="4.8"/>
<rect x="496.4" y="172.5" width="5.3" height="4.8"/>
<rect x="502.6" y="173.0" width="5.3" height="4.8"/>
<rect x="508.8" y="173.2" width="5.3" height="4.8"/>
<rect x="514.6" y="173.2" width="5.3" height="4.8"/>
<rect x="520.8" y="174.2" width="5.3" height="4.8"/>
<rect x="527.0" y="176.2" width="5.3" height="4.8"/>
<rect x="533.2" y="176.2" width="5.3" height="4.8"/>
<rect x="539.0" y="175.0" width="5.3" height="4.8"/>
<rect x="545.0" y="175.4" width="5.3" height="4.8"/>
<rect x="551.1" y="176.4" width="5.3" height="4.8"/>
<rect x="557.4" y="178.3" width="5.3" height="4.8"/>
<rect x="563.6" y="182.5" width="5.3" height="4.8"/>
<rect x="569.8" y="187.5" width="5.3" height="4.8"/>
<rect x="575.6" y="191.2" width="5.3" height="4.8"/>
<rect x="581.8" y="194.5" width="5.3" height="4.8"/>
<rect x="588.0" y="196.2" width="5.3" height="4.8"/>
<rect x="594.2" y="198.0" width="5.3" height="4.8"/>
<rect x="600.2" y="198.2" width="5.3" height="4.8"/>
<rect x="606.5" y="197.0" width="5.3" height="4.8"/>
<rect x="612.1" y="197.5" width="5.3" height="4.8"/>
<rect x="618.5" y="200.0" width="5.3" height="4.8"/>
<rect x="624.1" y="202.0" width="5.3" height="4.8"/>
<rect x="630.4" y="200.0" width="5.3" height="4.8"/>
<rect x="636.6" y="198.0" width="5.3" height="4.8"/>
<rect x="642.9" y="198.7" width="5.3" height="4.8"/>
<rect x="649.1" y="199.5" width="5.3" height="4.8"/>
<rect x="655.1" y="200.0" width="5.3" height="4.8"/>
<rect x="661.4" y="200.5" width="5.3" height="4.8"/>
<rect x="667.1" y="199.5" width="5.3" height="4.8"/>
<rect x="673.1" y="198.7" width="5.3" height="4.8"/>
<rect x="679.1" y="198.7" width="5.3" height="4.8"/>
<rect x="685.2" y="200.7" width="5.3" height="4.8"/>
<rect x="691.2" y="203.0" width="5.3" height="4.8"/>
<rect x="698.1" y="204.1" width="5.3" height="4.8"/>
<rect x="703.5" y="205.1" width="5.3" height="4.8"/>
<rect x="709.6" y="207.1" width="5.3" height="4.8"/>
<rect x="715.6" y="209.7" width="5.3" height="4.8"/>
<rect x="721.8" y="210.8" width="5.3" height="4.8"/>
<rect x="727.9" y="210.9" width="5.3" height="4.8"/>
<rect x="734.0" y="211.5" width="5.3" height="4.8"/>
<rect x="740.1" y="212.3" width="5.3" height="4.8"/>
<rect x="746.1" y="213.2" width="5.3" height="4.8"/>
<rect x="752.2" y="215.1" width="5.3" height="4.8"/>
<rect x="758.4" y="216.3" width="5.3" height="4.8"/>
<rect x="764.5" y="217.3" width="5.3" height="4.8"/>
<rect x="770.6" y="218.9" width="5.3" height="4.8"/>
<rect x="776.6" y="222.7" width="5.3" height="4.8"/>
<rect x="782.8" y="225.0" width="5.3" height="4.8"/>
<rect x="788.9" y="227.6" width="5.3" height="4.8"/>
<rect x="795.0" y="228.0" width="5.3" height="4.8"/>
<rect x="801.1" y="228.8" width="5.3" height="4.8"/>
<rect x="807.1" y="228.8" width="5.3" height="4.8"/>
<rect x="811.8" y="229.1" width="5.3" height="4.8"/>
</g>
<path d="M151.7,256.5 C152.8,256.4 155.9,256.4 158.0,256.2 C160.1,256.0 162.0,255.0 164.0,255.2 C166.0,255.4 168.2,256.1 170.2,257.2 C172.2,258.3 174.1,260.6 176.1,261.8 C178.1,263.0 180.3,263.9 182.3,264.3 C184.3,264.7 186.0,264.2 188.1,264.3 C190.2,264.4 192.7,264.1 194.8,264.9 C196.9,265.7 198.6,267.8 200.6,269.3 C202.6,270.9 204.6,272.7 206.6,274.2 C208.6,275.7 210.8,277.0 212.8,278.4 C214.8,279.8 216.8,281.5 218.8,282.3 C220.9,283.1 223.0,283.1 225.1,283.0 C227.2,282.9 229.3,281.7 231.3,281.7 C233.3,281.7 235.2,282.1 237.2,283.0 C239.2,283.9 241.4,285.7 243.5,286.8 C245.6,287.9 247.6,289.2 249.7,289.8 C251.8,290.4 253.9,290.4 256.0,290.5 C258.1,290.6 260.1,290.5 262.2,290.5 C264.3,290.5 266.4,290.4 268.4,290.3 C270.4,290.2 272.2,290.2 274.2,289.8 C276.2,289.4 278.2,288.6 280.2,288.0 C282.2,287.4 284.3,286.5 286.4,286.0 C288.5,285.5 290.6,285.1 292.6,284.8 C294.6,284.5 296.4,284.2 298.4,284.0 C300.4,283.8 302.5,283.8 304.6,283.5 C306.7,283.2 308.8,282.6 310.8,282.3 C312.8,282.0 314.6,281.7 316.6,281.8 C318.6,281.9 320.6,282.4 322.6,283.0 C324.6,283.6 326.8,284.2 328.8,285.3 C330.8,286.4 332.5,287.7 334.5,289.3 C336.5,290.9 338.6,293.3 340.8,294.8 C343.0,296.3 345.4,297.5 347.5,298.5 C349.6,299.5 351.6,300.4 353.7,301.0 C355.8,301.6 357.9,301.9 360.0,302.2 C362.1,302.4 364.1,302.4 366.2,302.5 C368.3,302.6 370.3,302.5 372.4,302.5 C374.5,302.5 376.6,302.5 378.7,302.5 C380.8,302.5 382.9,302.5 384.9,302.5 C386.8,302.5 388.5,302.5 390.4,302.5 C392.3,302.5 394.1,302.6 396.1,302.5 C398.1,302.4 400.4,302.2 402.4,302.2 C404.4,302.1 406.2,301.9 408.1,302.2 C410.1,302.5 412.2,303.1 414.1,304.0 C416.1,304.9 417.8,306.8 419.8,307.7 C421.8,308.6 423.9,309.3 426.0,309.7 C428.1,310.1 430.2,310.1 432.3,310.2 C434.4,310.3 436.4,310.2 438.5,310.5 C440.6,310.8 442.8,311.5 444.8,312.2 C446.8,312.9 448.7,315.0 450.7,314.7 C452.7,314.4 454.7,311.6 456.7,310.2 C458.7,308.8 460.7,306.9 462.7,306.0 C464.7,305.1 466.9,305.0 468.9,304.7 C470.9,304.4 472.7,304.3 474.7,304.0 C476.7,303.7 478.8,303.1 480.9,302.7 C483.0,302.3 485.0,302.0 487.1,301.5 C489.2,301.0 491.3,300.2 493.4,299.7 C495.5,299.2 497.5,299.0 499.6,298.5 C501.7,298.0 503.8,297.2 505.8,296.5 C507.8,295.8 509.6,294.9 511.6,294.0 C513.6,293.1 515.5,291.8 517.6,291.0 C519.7,290.2 521.9,289.6 524.0,289.0 C526.1,288.4 527.9,288.3 530.0,287.3 C532.1,286.3 534.4,284.6 536.5,283.0 C538.6,281.4 540.5,279.4 542.5,277.5 C544.5,275.6 546.5,273.4 548.5,271.3 C550.5,269.2 552.3,267.5 554.3,264.7 C556.3,261.9 558.3,258.7 560.3,254.3 C562.3,249.9 564.2,243.8 566.2,238.5 C568.2,233.2 570.4,226.7 572.4,222.3 C574.4,217.9 576.2,215.4 578.2,212.3 C580.2,209.2 582.3,204.9 584.4,203.6 C586.5,202.3 588.6,203.3 590.6,204.4 C592.6,205.5 594.6,208.0 596.6,209.9 C598.6,211.8 600.8,214.0 602.9,216.1 C605.0,218.2 607.1,220.1 609.1,222.3 C611.1,224.5 612.8,226.9 614.8,229.1 C616.8,231.3 619.1,233.8 621.1,235.5 C623.1,237.2 624.8,239.6 626.8,239.3 C628.8,239.0 630.8,235.2 632.8,233.5 C634.8,231.8 636.9,230.3 639.0,229.3 C641.1,228.3 643.4,227.8 645.5,227.3 C647.6,226.9 649.7,226.8 651.7,226.6 C653.7,226.4 655.7,226.3 657.7,226.1 C659.8,225.9 662.0,225.7 664.0,225.6 C666.0,225.5 667.8,225.4 669.7,225.3 C671.7,225.2 673.7,224.8 675.7,224.8 C677.7,224.8 679.7,225.0 681.7,225.3 C683.7,225.6 685.9,226.2 687.9,226.8 C689.9,227.4 691.8,228.1 693.9,228.6 C696.0,229.1 698.8,229.6 700.8,230.0 C702.8,230.4 704.2,230.5 706.1,230.9 C708.0,231.3 710.2,232.1 712.2,232.7 C714.2,233.3 716.3,234.1 718.3,234.5 C720.3,234.9 722.4,235.2 724.4,235.3 C726.4,235.4 728.5,235.3 730.5,235.3 C732.5,235.3 734.6,235.3 736.6,235.3 C738.6,235.3 740.7,235.4 742.7,235.3 C744.7,235.2 746.8,235.2 748.8,235.0 C750.8,234.8 752.9,234.3 754.9,233.9 C756.9,233.5 759.0,232.9 761.0,232.4 C763.0,231.9 765.1,231.4 767.1,230.9 C769.1,230.4 771.2,230.5 773.2,229.7 C775.2,228.8 777.3,227.0 779.3,225.8 C781.3,224.6 783.4,223.2 785.4,222.5 C787.4,221.8 789.5,221.6 791.5,221.3 C793.5,221.1 795.6,220.8 797.6,221.0 C799.6,221.2 801.7,221.6 803.7,222.5 C805.7,223.4 808.0,225.2 809.8,226.6 C811.6,228.0 813.6,230.2 814.4,230.9" fill="none" stroke="#e62626" stroke-width="1.15" stroke-opacity=".85" stroke-linejoin="round"/>
<g fill="#fff" stroke="#e62626" stroke-width="1.1">
<rect x="149.0" y="254.1" width="5.3" height="4.8"/>
<rect x="155.3" y="253.8" width="5.3" height="4.8"/>
<rect x="161.3" y="252.8" width="5.3" height="4.8"/>
<rect x="167.5" y="254.8" width="5.3" height="4.8"/>
<rect x="173.4" y="259.4" width="5.3" height="4.8"/>
<rect x="179.7" y="261.9" width="5.3" height="4.8"/>
<rect x="185.4" y="261.9" width="5.3" height="4.8"/>
<rect x="192.2" y="262.5" width="5.3" height="4.8"/>
<rect x="197.9" y="266.9" width="5.3" height="4.8"/>
<rect x="203.9" y="271.8" width="5.3" height="4.8"/>
<rect x="210.2" y="276.0" width="5.3" height="4.8"/>
<rect x="216.2" y="279.9" width="5.3" height="4.8"/>
<rect x="222.4" y="280.6" width="5.3" height="4.8"/>
<rect x="228.7" y="279.3" width="5.3" height="4.8"/>
<rect x="234.5" y="280.6" width="5.3" height="4.8"/>
<rect x="240.8" y="284.4" width="5.3" height="4.8"/>
<rect x="247.0" y="287.4" width="5.3" height="4.8"/>
<rect x="253.3" y="288.1" width="5.3" height="4.8"/>
<rect x="259.6" y="288.1" width="5.3" height="4.8"/>
<rect x="265.8" y="287.9" width="5.3" height="4.8"/>
<rect x="271.6" y="287.4" width="5.3" height="4.8"/>
<rect x="277.6" y="285.6" width="5.3" height="4.8"/>
<rect x="283.8" y="283.6" width="5.3" height="4.8"/>
<rect x="290.0" y="282.4" width="5.3" height="4.8"/>
<rect x="295.8" y="281.6" width="5.3" height="4.8"/>
<rect x="302.0" y="281.1" width="5.3" height="4.8"/>
<rect x="308.2" y="279.9" width="5.3" height="4.8"/>
<rect x="314.0" y="279.4" width="5.3" height="4.8"/>
<rect x="320.0" y="280.6" width="5.3" height="4.8"/>
<rect x="326.2" y="282.9" width="5.3" height="4.8"/>
<rect x="331.9" y="286.9" width="5.3" height="4.8"/>
<rect x="338.2" y="292.4" width="5.3" height="4.8"/>
<rect x="344.9" y="296.1" width="5.3" height="4.8"/>
<rect x="351.1" y="298.6" width="5.3" height="4.8"/>
<rect x="357.4" y="299.8" width="5.3" height="4.8"/>
<rect x="363.6" y="300.1" width="5.3" height="4.8"/>
<rect x="369.8" y="300.1" width="5.3" height="4.8"/>
<rect x="376.1" y="300.1" width="5.3" height="4.8"/>
<rect x="382.2" y="300.1" width="5.3" height="4.8"/>
<rect x="387.8" y="300.1" width="5.3" height="4.8"/>
<rect x="393.5" y="300.1" width="5.3" height="4.8"/>
<rect x="399.8" y="299.8" width="5.3" height="4.8"/>
<rect x="405.5" y="299.8" width="5.3" height="4.8"/>
<rect x="411.5" y="301.6" width="5.3" height="4.8"/>
<rect x="417.2" y="305.3" width="5.3" height="4.8"/>
<rect x="423.4" y="307.3" width="5.3" height="4.8"/>
<rect x="429.7" y="307.8" width="5.3" height="4.8"/>
<rect x="435.9" y="308.1" width="5.3" height="4.8"/>
<rect x="442.2" y="309.8" width="5.3" height="4.8"/>
<rect x="448.1" y="312.3" width="5.3" height="4.8"/>
<rect x="454.1" y="307.8" width="5.3" height="4.8"/>
<rect x="460.1" y="303.6" width="5.3" height="4.8"/>
<rect x="466.2" y="302.3" width="5.3" height="4.8"/>
<rect x="472.1" y="301.6" width="5.3" height="4.8"/>
<rect x="478.2" y="300.3" width="5.3" height="4.8"/>
<rect x="484.5" y="299.1" width="5.3" height="4.8"/>
<rect x="490.8" y="297.3" width="5.3" height="4.8"/>
<rect x="497.0" y="296.1" width="5.3" height="4.8"/>
<rect x="503.2" y="294.1" width="5.3" height="4.8"/>
<rect x="509.0" y="291.6" width="5.3" height="4.8"/>
<rect x="515.0" y="288.6" width="5.3" height="4.8"/>
<rect x="521.4" y="286.6" width="5.3" height="4.8"/>
<rect x="527.4" y="284.9" width="5.3" height="4.8"/>
<rect x="533.9" y="280.6" width="5.3" height="4.8"/>
<rect x="539.9" y="275.1" width="5.3" height="4.8"/>
<rect x="545.9" y="268.9" width="5.3" height="4.8"/>
<rect x="551.6" y="262.3" width="5.3" height="4.8"/>
<rect x="557.6" y="251.9" width="5.3" height="4.8"/>
<rect x="563.6" y="236.1" width="5.3" height="4.8"/>
<rect x="569.8" y="219.9" width="5.3" height="4.8"/>
<rect x="575.6" y="209.9" width="5.3" height="4.8"/>
<rect x="581.8" y="201.2" width="5.3" height="4.8"/>
<rect x="588.0" y="202.0" width="5.3" height="4.8"/>
<rect x="594.0" y="207.5" width="5.3" height="4.8"/>
<rect x="600.2" y="213.7" width="5.3" height="4.8"/>
<rect x="606.5" y="219.9" width="5.3" height="4.8"/>
<rect x="612.1" y="226.7" width="5.3" height="4.8"/>
<rect x="618.5" y="233.1" width="5.3" height="4.8"/>
<rect x="624.1" y="236.9" width="5.3" height="4.8"/>
<rect x="630.1" y="231.1" width="5.3" height="4.8"/>
<rect x="636.4" y="226.9" width="5.3" height="4.8"/>
<rect x="642.9" y="224.9" width="5.3" height="4.8"/>
<rect x="649.1" y="224.2" width="5.3" height="4.8"/>
<rect x="655.1" y="223.7" width="5.3" height="4.8"/>
<rect x="661.4" y="223.2" width="5.3" height="4.8"/>
<rect x="667.1" y="222.9" width="5.3" height="4.8"/>
<rect x="673.1" y="222.4" width="5.3" height="4.8"/>
<rect x="679.1" y="222.9" width="5.3" height="4.8"/>
<rect x="685.2" y="224.4" width="5.3" height="4.8"/>
<rect x="691.2" y="226.2" width="5.3" height="4.8"/>
<rect x="698.1" y="227.6" width="5.3" height="4.8"/>
<rect x="703.5" y="228.5" width="5.3" height="4.8"/>
<rect x="709.6" y="230.3" width="5.3" height="4.8"/>
<rect x="715.6" y="232.1" width="5.3" height="4.8"/>
<rect x="721.8" y="232.9" width="5.3" height="4.8"/>
<rect x="727.9" y="232.9" width="5.3" height="4.8"/>
<rect x="734.0" y="232.9" width="5.3" height="4.8"/>
<rect x="740.1" y="232.9" width="5.3" height="4.8"/>
<rect x="746.1" y="232.6" width="5.3" height="4.8"/>
<rect x="752.2" y="231.5" width="5.3" height="4.8"/>
<rect x="758.4" y="230.0" width="5.3" height="4.8"/>
<rect x="764.5" y="228.5" width="5.3" height="4.8"/>
<rect x="770.6" y="227.3" width="5.3" height="4.8"/>
<rect x="776.6" y="223.4" width="5.3" height="4.8"/>
<rect x="782.8" y="220.1" width="5.3" height="4.8"/>
<rect x="788.9" y="218.9" width="5.3" height="4.8"/>
<rect x="795.0" y="218.6" width="5.3" height="4.8"/>
<rect x="801.1" y="220.1" width="5.3" height="4.8"/>
<rect x="807.1" y="224.2" width="5.3" height="4.8"/>
<rect x="811.8" y="228.5" width="5.3" height="4.8"/>
</g>
</g>
<path d="M150.2,4.0 H815.6 M150.2,493.9 H815.6" fill="none" stroke="#000" stroke-width="2" stroke-linecap="square"/>
<path d="M150.2,4.0 V493.9 M815.6,4.0 V493.9" fill="none" stroke="#000" stroke-width="2.2" stroke-linecap="square"/>
<text transform="translate(150.1,528.3) scale(1.08,1.045)" font-size="28.6" text-anchor="middle" fill="#000" font-family="Liberation Sans, Arial, sans-serif" stroke="#000" stroke-width="0.35" >-2</text>
<text transform="translate(314.4,528.3) scale(1.08,1.045)" font-size="28.6" text-anchor="middle" fill="#000" font-family="Liberation Sans, Arial, sans-serif" stroke="#000" stroke-width="0.35" >-1</text>
<text transform="translate(482.2,528.3) scale(1.08,1.045)" font-size="28.6" text-anchor="middle" fill="#000" font-family="Liberation Sans, Arial, sans-serif" stroke="#000" stroke-width="0.35" >0</text>
<text transform="translate(651.0,528.3) scale(1.08,1.045)" font-size="28.6" text-anchor="middle" fill="#000" font-family="Liberation Sans, Arial, sans-serif" stroke="#000" stroke-width="0.35" >1</text>
<text transform="translate(814.3,528.3) scale(1.08,1.045)" font-size="28.6" text-anchor="middle" fill="#000" font-family="Liberation Sans, Arial, sans-serif" stroke="#000" stroke-width="0.35" >2</text>
<text transform="translate(139.5,479.9) scale(1.08,1.045)" font-size="28.6" text-anchor="end" fill="#000" font-family="Liberation Sans, Arial, sans-serif" stroke="#000" stroke-width="0.35" >-20</text>
<text transform="translate(139.5,368.5) scale(1.08,1.045)" font-size="28.6" text-anchor="end" fill="#000" font-family="Liberation Sans, Arial, sans-serif" stroke="#000" stroke-width="0.35" >-10</text>
<text transform="translate(139.5,257.1) scale(1.08,1.045)" font-size="28.6" text-anchor="end" fill="#000" font-family="Liberation Sans, Arial, sans-serif" stroke="#000" stroke-width="0.35" >0</text>
<text transform="translate(139.5,145.7) scale(1.08,1.045)" font-size="28.6" text-anchor="end" fill="#000" font-family="Liberation Sans, Arial, sans-serif" stroke="#000" stroke-width="0.35" >10</text>
<text transform="translate(139.5,34.3) scale(1.08,1.045)" font-size="28.6" text-anchor="end" fill="#000" font-family="Liberation Sans, Arial, sans-serif" stroke="#000" stroke-width="0.35" >20</text>
<text transform="translate(482.3,582.2) scale(1.1,1.045)" font-size="32.5" text-anchor="middle" font-family="Liberation Sans, Arial, sans-serif" stroke="#000" stroke-width="0.35">H (kA.m<tspan font-size="17" dy="-17">-1</tspan><tspan dy="17">)</tspan></text>
<text transform="translate(44.8,398.3) rotate(-90) scale(1,1.1)" font-size="30" font-family="DejaVu Serif, Liberation Serif, serif" >α</text>
<text transform="translate(21.0,370.8) rotate(-90) scale(1,1.03)" font-size="22" font-family="Liberation Sans, Arial, sans-serif" stroke="#000" stroke-width="0.35" textLength="76.5" lengthAdjust="spacingAndGlyphs">410nm</text>
<text transform="translate(60.0,368.2) rotate(-90) scale(1,1.12)" font-size="21.6" font-family="Liberation Sans, Arial, sans-serif" stroke="#000" stroke-width="0.35" >CMP</text>
<text transform="translate(45.8,283.3) rotate(-90) scale(1,1.08)" font-size="33" font-family="Liberation Sans, Arial, sans-serif" stroke="#000" stroke-width="0.35" >(10</text>
<text transform="translate(22.8,232.8) rotate(-90) scale(1,1.1)" font-size="19.5" font-family="Liberation Sans, Arial, sans-serif" stroke="#000" stroke-width="0.35" >-5</text>
<text transform="translate(45.8,195.3) rotate(-90) scale(1,1.08)" font-size="33" font-family="Liberation Sans, Arial, sans-serif" stroke="#000" stroke-width="0.35" >s.A</text>
<text transform="translate(22.0,144.8) rotate(-90) scale(1,1.1)" font-size="19.5" font-family="Liberation Sans, Arial, sans-serif" stroke="#000" stroke-width="0.35" >-1</text>
<text transform="translate(45.8,126.3) rotate(-90) scale(1,1.08)" font-size="33" font-family="Liberation Sans, Arial, sans-serif" stroke="#000" stroke-width="0.35" >)</text>
<g fill="#ff0000" stroke="none">
<line x1="443.5" y1="139" x2="486.5" y2="163" stroke="#ff0000" stroke-width="5.4" stroke-linecap="round"/>
<polygon points="499.3,170.3 491,155.5 481.5,170.3" stroke="#ff0000" stroke-width="1" stroke-linejoin="round"/>
<text transform="translate(371.5,134) scale(1.03,1)" font-size="33" font-family="DejaVu Serif, Liberation Serif, serif" stroke="#ff0000" stroke-width="0.9">α</text>
<text transform="translate(395.5,149.2) scale(1.08,1.04)" font-size="22" font-weight="bold" font-family="Liberation Sans, Arial, sans-serif">ext</text>
<path d="M408.2,91 V110.0 M402.2,103.5 L408.2,110.0 L414.2,103.5" fill="none" stroke="#ff0000" stroke-width="1.5"/>
</g>
<g fill="#0000ff" stroke="none">
<line x1="698.5" y1="70.5" x2="637.8" y2="39" stroke="#0000ff" stroke-width="5.4" stroke-linecap="round"/>
<polygon points="623.4,31.8 642.4,32.4 633.3,45.5" stroke="#0000ff" stroke-width="1" stroke-linejoin="round"/>
<text transform="translate(696.5,85.5) scale(1.03,1)" font-size="33" font-family="DejaVu Serif, Liberation Serif, serif" stroke="#0000ff" stroke-width="0.9">α</text>
<text transform="translate(720.2,100.6) scale(1.08,1.04)" font-size="22" font-weight="bold" font-family="Liberation Sans, Arial, sans-serif">ext</text>
<path d="M733.6,62.5 V43.5 M727.6,50 L733.6,43.5 L739.6,50" fill="none" stroke="#0000ff" stroke-width="1.5"/>
</g>
<g fill="#ff0000" stroke="none">
<line x1="535" y1="336.8" x2="470.3" y2="324.1" stroke="#ff0000" stroke-width="5.4" stroke-linecap="round"/>
<polygon points="454.2,321.2 472.7,316.1 467.9,332.1" stroke="#ff0000" stroke-width="1" stroke-linejoin="round"/>
<text transform="translate(541.5,349.8) scale(1.03,1)" font-size="33" font-family="DejaVu Serif, Liberation Serif, serif" stroke="#ff0000" stroke-width="0.9">α</text>
<text transform="translate(566,365.3) scale(1.08,1.04)" font-size="22" font-weight="bold" font-family="Liberation Sans, Arial, sans-serif">ext</text>
<path d="M577.9,326.8 V307.8 M571.9,314.3 L577.9,307.8 L583.9,314.3" fill="none" stroke="#ff0000" stroke-width="1.5"/>
</g>
<g fill="#0000ff" stroke="none">
<line x1="269.5" y1="436.5" x2="324" y2="461.7" stroke="#0000ff" stroke-width="5.4" stroke-linecap="round"/>
<polygon points="338.3,468.4 328.9,454 319,469.3" stroke="#0000ff" stroke-width="1" stroke-linejoin="round"/>
<text transform="translate(192,411.3) scale(1.03,1)" font-size="33" font-family="DejaVu Serif, Liberation Serif, serif" stroke="#0000ff" stroke-width="0.9">α</text>
<text transform="translate(216,426.3) scale(1.08,1.04)" font-size="22" font-weight="bold" font-family="Liberation Sans, Arial, sans-serif">ext</text>
<path d="M229.3,368.2 V387.2 M223.3,380.7 L229.3,387.2 L235.3,380.7" fill="none" stroke="#0000ff" stroke-width="1.5"/>
</g>
<line x1="483.2" y1="4.0" x2="483.2" y2="493.9" stroke="#000" stroke-width="2"/>
<rect x="535" y="376" width="259.5" height="99.5" fill="#fff" stroke="#222" stroke-width="1.2"/>
<line x1="552.7" y1="404.9" x2="641" y2="404.9" stroke="#7272d4" stroke-width="1.6"/>
<rect x="592.4" y="403" width="8.4" height="4" fill="#fff"/>
<rect x="593.5" y="402" width="6.2" height="6" fill="#0000ff"/>
<line x1="552.7" y1="453.9" x2="641" y2="453.9" stroke="#e27474" stroke-width="1.6"/>
<rect x="592.4" y="452" width="8.4" height="4" fill="#fff"/>
<rect x="593.8" y="451.1" width="5.5" height="5.4" fill="#fff" stroke="#e62626" stroke-width="1.1"/>
<text transform="translate(651.5,417.0) scale(0.96,1.01)" font-size="37.5" text-anchor="start" fill="#000" font-family="Liberation Serif, Times New Roman, serif" stroke="#000" stroke-width="0.3" >φ = 0°</text>
<text transform="translate(651.5,466.2) scale(0.96,1.01)" font-size="37.5" text-anchor="start" fill="#000" font-family="Liberation Serif, Times New Roman, serif" stroke="#000" stroke-width="0.3" >φ = 77.5°</text>
</svg>
</body></html>
